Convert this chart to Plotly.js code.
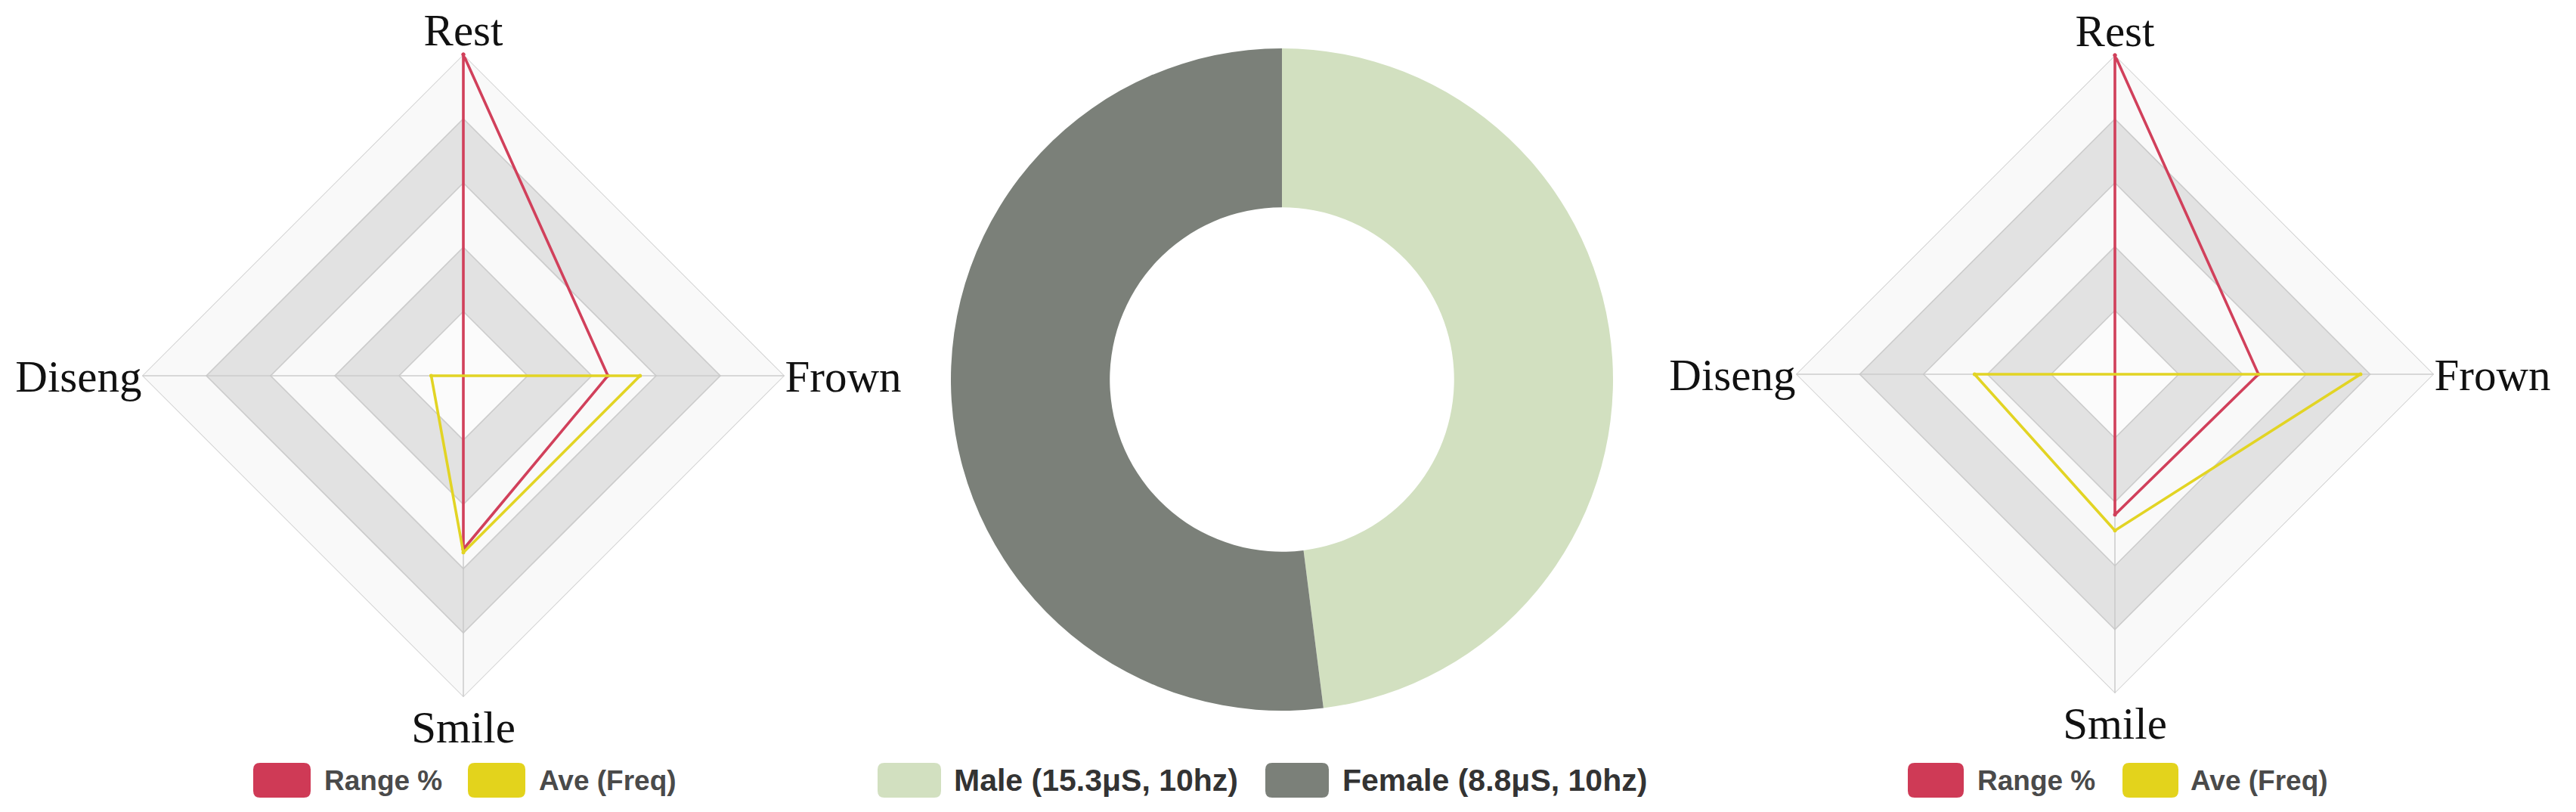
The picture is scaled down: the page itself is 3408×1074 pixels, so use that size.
<!DOCTYPE html>
<html>
<head>
<meta charset="utf-8">
<script src="https://cdn.plot.ly/plotly-3.0.1.min.js"></script>
<style>
  html, body { margin: 0; padding: 0; background: #ffffff; }
  #chart { width: 3408px; height: 1074px; }
</style>
</head>
<body>
<div id="chart"></div>
<script>
// ---------------- DATA ----------------
const radarAxes = ['Rest', 'Frown', 'Smile', 'Diseng'];
const seriesNames = ['Range %', 'Ave (Freq)'];
const leftRange = [100, 45, 54, 0];
const leftAve = [0, 55, 55, 10];
const rightRange = [100, 45, 44, 0];
const rightAve = [0, 77, 49, 44];
const gridLevels = [100, 80, 60, 40, 20];
const donutLabels = ['Male (15.3\u03bcS, 10hz)', 'Female (8.8\u03bcS, 10hz)'];
const donutValues = [48, 52];

// ---------------- STYLE ----------------
const W = 3408, H = 1074;
const seriesColors = ['#d1405b', '#e2d424'];
const swatchColors = ['#cf3a56', '#e3d31c'];
const donutColors = ['#d2e0c0', '#7b8079'];
const bandColors = ['#f9f9f9', '#e2e2e2', '#f9f9f9', '#e2e2e2', '#fbfbfb'];
const ringLine = 'rgba(200,200,200,0.9)';

function closed(arr) { return arr.concat([arr[0]]); }

function radarTraces(subplot, rangeVals, aveVals) {
  const tr = [];
  gridLevels.forEach((lvl, i) => {
    tr.push({
      type: 'scatterpolar', subplot: subplot, mode: 'lines',
      r: closed(radarAxes.map(() => lvl)), theta: closed(radarAxes),
      fill: 'toself', fillcolor: bandColors[i],
      line: { color: ringLine, width: 1.6 },
      hoverinfo: 'skip', showlegend: false
    });
  });
  // spokes
  [[0, 2], [1, 3]].forEach(([a, b]) => {
    tr.push({
      type: 'scatterpolar', subplot: subplot, mode: 'lines',
      r: [gridLevels[0], 0, gridLevels[0]],
      theta: [radarAxes[a], radarAxes[a], radarAxes[b]],
      line: { color: ringLine, width: 1.6 },
      hoverinfo: 'skip', showlegend: false
    });
  });
  [rangeVals, aveVals].forEach((vals, k) => {
    tr.push({
      type: 'scatterpolar', subplot: subplot, mode: 'lines+markers',
      name: seriesNames[k],
      r: closed(vals), theta: closed(radarAxes),
      line: { color: seriesColors[k], width: 3.6 },
      marker: { color: seriesColors[k], size: 5 },
      showlegend: false
    });
  });
  return tr;
}

const data = []
  .concat(radarTraces('polar', leftRange, leftAve))
  .concat(radarTraces('polar2', rightRange, rightAve));

data.push({
  type: 'pie',
  labels: donutLabels, values: donutValues,
  hole: 0.52, sort: false, direction: 'clockwise', rotation: 0,
  marker: { colors: donutColors, line: { width: 0 } },
  textinfo: 'none', hoverinfo: 'label+value',
  domain: { x: [1258 / W, 2134 / W], y: [1 - 940 / H, 1 - 64 / H] },
  showlegend: false
});

function polarLayout(x0, x1, y0, y1) {
  return {
    domain: { x: [x0 / W, x1 / W], y: [1 - y1 / H, 1 - y0 / H] },
    gridshape: 'linear',
    bgcolor: 'rgba(0,0,0,0)',
    radialaxis: { range: [0, 100], visible: false, showgrid: false },
    angularaxis: {
      type: 'category', categoryarray: radarAxes,
      rotation: 90, direction: 'clockwise',
      showgrid: false, showline: false, ticks: '',
      tickfont: { family: 'Liberation Serif, DejaVu Serif, serif', size: 59, color: '#111111' }
    }
  };
}

// ---- custom legends (rounded swatches + text) ----
function rr(x0, y0, x1, y1, r) {
  const X = v => (v / W).toFixed(6), Y = v => (1 - v / H).toFixed(6);
  return `M${X(x0 + r)},${Y(y0)} L${X(x1 - r)},${Y(y0)} Q${X(x1)},${Y(y0)} ${X(x1)},${Y(y0 + r)} ` +
         `L${X(x1)},${Y(y1 - r)} Q${X(x1)},${Y(y1)} ${X(x1 - r)},${Y(y1)} L${X(x0 + r)},${Y(y1)} ` +
         `Q${X(x0)},${Y(y1)} ${X(x0)},${Y(y1 - r)} L${X(x0)},${Y(y0 + r)} Q${X(x0)},${Y(y0)} ${X(x0 + r)},${Y(y0)} Z`;
}
const shapes = [];
const annotations = [];
function legendItem(bx0, bx1, textX, color, label, size, fcolor) {
  const yc = 1032, hh = 23;
  shapes.push({ type: 'path', xref: 'paper', yref: 'paper', path: rr(bx0, yc - hh, bx1, yc + hh, 9),
                fillcolor: color, line: { width: 0 } });
  annotations.push({ xref: 'paper', yref: 'paper', x: textX / W, y: 1 - yc / H,
                     xanchor: 'left', yanchor: 'middle', showarrow: false, text: label,
                     font: { family: 'Liberation Sans, Arial, sans-serif', size: size, color: fcolor, weight: 'bold' } });
}
legendItem(335, 411, 427, swatchColors[0], seriesNames[0], 37, '#4a4a4a');
legendItem(619, 695, 711, swatchColors[1], seriesNames[1], 37, '#4a4a4a');
legendItem(2524, 2598, 2614, swatchColors[0], seriesNames[0], 37, '#4a4a4a');
legendItem(2808, 2882, 2896, swatchColors[1], seriesNames[1], 37, '#4a4a4a');
legendItem(1161, 1245, 1260, donutColors[0], donutLabels[0], 41, '#333333');
legendItem(1674, 1758, 1774, donutColors[1], donutLabels[1], 41, '#333333');

const layout = {
  width: W, height: H,
  margin: { l: 0, r: 0, t: 0, b: 0 },
  paper_bgcolor: '#ffffff',
  showlegend: false,
  polar: polarLayout(188, 1038, 72, 922),
  polar2: polarLayout(2376, 3220, 73, 917),
  shapes: shapes,
  annotations: annotations
};

Plotly.newPlot('chart', data, layout, { staticPlot: true });
</script>
</body>
</html>
